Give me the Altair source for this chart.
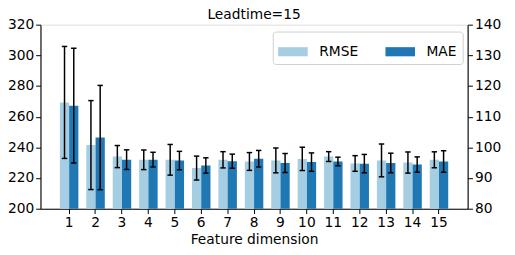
import altair as alt
import pandas as pd

title_text = "Leadtime=15"
dims = list(range(1, 16))
rmse = [269.3, 241.5, 234.0, 231.9, 231.9, 226.5, 231.9, 230.8, 231.5, 232.5, 234.0, 229.5, 231.5, 230.1, 231.9]
rmse_err = [36.5, 29.0, 7.2, 6.4, 10.0, 7.8, 5.3, 5.8, 8.1, 7.6, 3.2, 5.1, 10.7, 6.9, 5.2]
mae = [113.6, 103.2, 96.0, 96.0, 95.7, 94.1, 95.5, 96.3, 94.9, 95.2, 95.4, 94.7, 94.9, 94.4, 95.4]
mae_err = [18.7, 17.0, 3.2, 2.4, 3.0, 2.5, 2.3, 2.7, 3.1, 3.0, 1.4, 3.0, 3.2, 2.5, 3.5]
metrics = ["RMSE", "MAE"]
colors = ["#a6cee3", "#1f78b4"]

rows = []
for d, v, e in zip(dims, rmse, rmse_err):
    rows.append({"dim": d, "metric": "RMSE", "value": v, "lo": v - e, "hi": v + e})
for d, v, e in zip(dims, mae, mae_err):
    rows.append({"dim": d, "metric": "MAE", "value": v, "lo": v - e, "hi": v + e})
df = pd.DataFrame(rows)

FONT = "DejaVu Sans"
W, H = 434, 187

x_enc = alt.X("dim:O", title="Feature dimension",
              scale=alt.Scale(paddingInner=0.3, paddingOuter=0.735),
              axis=alt.Axis(labelAngle=0, labelFontSize=14, titleFontSize=14,
                            titleFontWeight="normal", tickSize=4.9, labelPadding=2.6,
                            titlePadding=3, domainColor="black", tickColor="black",
                            labelColor="black", titleColor="black", labelFont=FONT,
                            titleFont=FONT, grid=False, domainWidth=1.1))
xo_enc = alt.XOffset("metric:N", scale=alt.Scale(domain=metrics, paddingInner=0, paddingOuter=0))
color_enc = alt.Color("metric:N", scale=alt.Scale(domain=metrics, range=colors),
                      legend=alt.Legend(title=None, orient="none", legendX=236, legendY=7,
                                        direction="horizontal", columns=2,
                                        symbolType="M-1,-0.31H1V0.31H-1Z", symbolSize=900,
                                        symbolStrokeWidth=0, labelFontSize=14, labelFont=FONT,
                                        labelColor="black", labelOffset=11.7, columnPadding=27,
                                        padding=5.5, strokeColor="#d0d0d0", fillColor="white",
                                        cornerRadius=3))


def metric_layer(name, domain, ticks, orient):
    base = alt.Chart(df).transform_filter(alt.datum.metric == name)
    yscale = alt.Scale(domain=domain, nice=False, zero=False)
    yaxis = alt.Axis(orient=orient, values=ticks, title=None, grid=False, labelFontSize=14,
                     labelFont=FONT, labelColor="black", tickColor="black", domainColor="black",
                     tickSize=4.9, labelPadding=2, domainWidth=1.1, labelOverlap=False)
    bars = base.mark_bar(clip=True).encode(
        x=x_enc, xOffset=xo_enc, color=color_enc,
        y=alt.Y("value:Q", scale=yscale, axis=yaxis),
    )
    rules = base.mark_rule(color="black", strokeWidth=1.5).encode(
        x=x_enc, xOffset=xo_enc, y=alt.Y("lo:Q", scale=yscale, axis=yaxis), y2="hi:Q")
    cap_lo = base.mark_tick(color="black", size=5.5, thickness=1.5, opacity=1).encode(
        x=x_enc, xOffset=xo_enc, y=alt.Y("lo:Q", scale=yscale, axis=yaxis))
    cap_hi = base.mark_tick(color="black", size=5.5, thickness=1.5, opacity=1).encode(
        x=x_enc, xOffset=xo_enc, y=alt.Y("hi:Q", scale=yscale, axis=yaxis))
    return alt.layer(bars, rules, cap_lo, cap_hi)


left = metric_layer("RMSE", [200, 320], list(range(200, 321, 20)), "left")
right = metric_layer("MAE", [80, 140], list(range(80, 141, 10)), "right")

title_layer = alt.Chart(pd.DataFrame({"t": [title_text]})).mark_text(
    font=FONT, fontSize=14, color="black", align="center", baseline="alphabetic"
).encode(text="t:N", x=alt.value(W / 2), y=alt.value(-5.5))

chart = alt.layer(left, right, title_layer).resolve_scale(y="independent").properties(
    width=W, height=H,
    autosize=alt.AutoSizeParams(type="none"),
    padding={"left": 33, "top": 15, "right": 40, "bottom": 40},
).configure_view(stroke="#808080", strokeWidth=1.5).configure(background="white")

chart.save("out.html", embed_options={"renderer": "svg", "actions": False})
